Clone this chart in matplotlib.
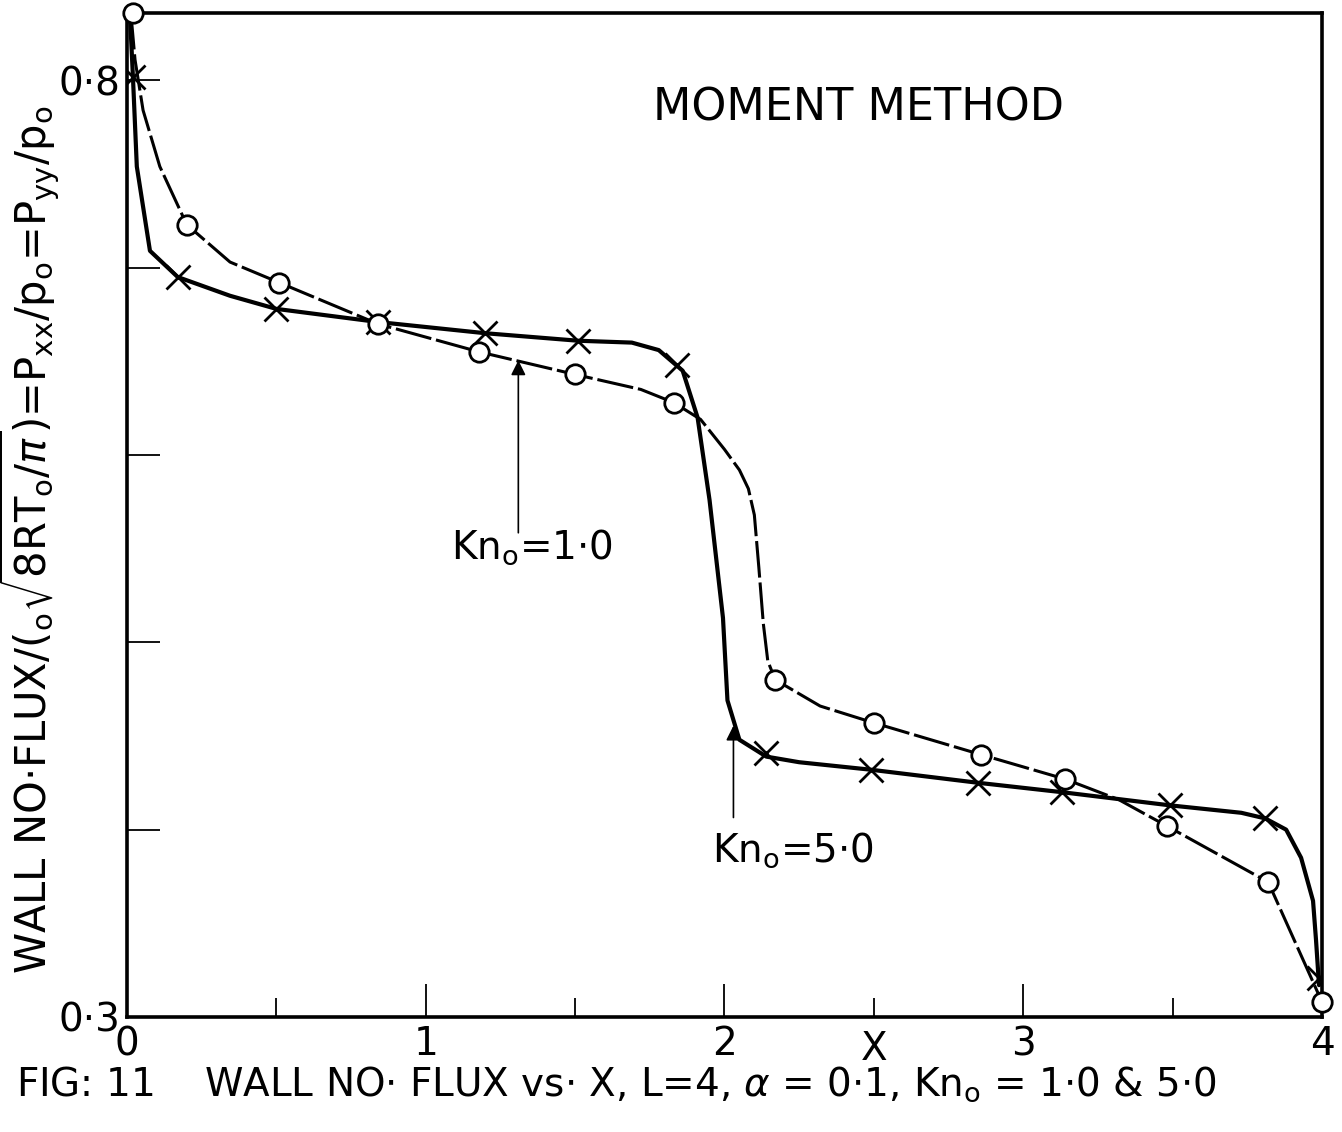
import matplotlib.pyplot as plt

plt.rcParams['font.family'] = ['DejaVu Sans']
plt.rcParams['mathtext.fontset'] = 'dejavusans'

# Kn0 = 1.0 (circles, broken line)
kn1_x = [0.02, 0.20, 0.51, 0.84, 1.18, 1.50, 1.83, 2.17, 2.50, 2.86, 3.14, 3.48, 3.82, 4.00]
kn1_y = [0.836, 0.723, 0.692, 0.670, 0.655, 0.643, 0.628, 0.480, 0.457, 0.440, 0.427, 0.402, 0.372, 0.308]
# Kn0 = 5.0 (crosses, solid line)
kn5_x = [0.02, 0.17, 0.50, 0.84, 1.20, 1.51, 1.84, 2.14, 2.49, 2.85, 3.13, 3.49, 3.81, 3.99]
kn5_y = [0.802, 0.695, 0.678, 0.671, 0.665, 0.661, 0.648, 0.441, 0.432, 0.425, 0.420, 0.413, 0.406, 0.321]

# hand-drawn curves
kn1_cx = [0.013, 0.027, 0.054, 0.11, 0.20, 0.345, 0.51, 0.84, 1.18, 1.50, 1.72, 1.83, 1.92, 2.00,
          2.05, 2.08, 2.10, 2.115, 2.13, 2.145, 2.17, 2.32, 2.50, 2.86, 3.14, 3.32, 3.48, 3.82, 4.00]
kn1_cy = [0.836, 0.811, 0.784, 0.754, 0.723, 0.703, 0.692, 0.670, 0.655, 0.643, 0.635, 0.628, 0.619, 0.603,
          0.592, 0.582, 0.568, 0.540, 0.510, 0.490, 0.480, 0.466, 0.457, 0.440, 0.427, 0.416, 0.402, 0.372, 0.308]
kn5_cx = [0.01, 0.02, 0.033, 0.077, 0.17, 0.345, 0.50, 0.84, 1.20, 1.51, 1.69, 1.78, 1.86, 1.91, 1.95,
          1.995, 2.01, 2.05, 2.14, 2.25, 2.49, 2.85, 3.13, 3.49, 3.73, 3.81, 3.88, 3.93, 3.97, 3.98, 3.99]
kn5_cy = [0.835, 0.802, 0.754, 0.709, 0.695, 0.685, 0.678, 0.671, 0.665, 0.661, 0.660, 0.656, 0.645, 0.620, 0.576,
          0.513, 0.469, 0.448, 0.439, 0.436, 0.432, 0.425, 0.420, 0.413, 0.409, 0.406, 0.400, 0.385, 0.362, 0.341, 0.317]

fig = plt.figure(figsize=(13.42, 11.32), dpi=100)
ax = fig.add_axes([0.0946, 0.1016, 0.8905, 0.887])

ax.plot(kn5_cx, kn5_cy, color='black', lw=3.0, solid_capstyle='round', zorder=2)
ax.plot(kn1_cx, kn1_cy, color='black', lw=2.2, linestyle=(0, (12, 1.6)), zorder=2)
ax.plot(kn5_x, kn5_y, linestyle='none', marker='x', ms=17, mew=2.0, color='black', zorder=3)
ax.plot(kn1_x, kn1_y, linestyle='none', marker='o', ms=14, mew=2.0, mfc='white', mec='black',
        zorder=4, clip_on=False)

ax.set_xlim(0, 4)
ax.set_ylim(0.3, 0.836)

ax.set_xticks([0, 1, 2, 3, 4])
ax.set_xticklabels(['0', '1', '2', '3', '4'])
ax.set_xticks([0.5, 1.5, 2.5, 3.5], minor=True)
ax.set_yticks([0.3, 0.4, 0.5, 0.6, 0.7, 0.8])
ax.set_yticklabels(['0·3', '', '', '', '', '0·8'])
ax.tick_params(axis='both', which='major', direction='in', length=24, width=1.3, labelsize=28, pad=6)
ax.tick_params(axis='x', which='minor', direction='in', length=14, width=1.3)
ax.tick_params(axis='y', pad=5)
for s in ax.spines.values():
    s.set_linewidth(2.6)

ax.set_xlabel('X', fontsize=28)
ax.xaxis.set_label_coords(2.5 / 4, -0.0125, transform=ax.transAxes)
ax.xaxis.label.set_verticalalignment('top')

ax.set_ylabel(r'WALL NO$\cdot$FLUX/($_{\mathsf{o}}\sqrt{\mathsf{8RT}_{\mathsf{o}}/\pi}$)='
              r'P$_{\mathsf{xx}}$/p$_{\mathsf{o}}$=P$_{\mathsf{yy}}$/p$_{\mathsf{o}}$',
              fontsize=30)
ax.yaxis.set_label_coords(-0.054, 0.475)

ax.text(2.45, 0.785, 'MOMENT METHOD', fontsize=32, ha='center', va='center')

ax.annotate('', xy=(1.31, 0.652), xytext=(1.31, 0.557),
            arrowprops=dict(arrowstyle='-|>', color='black', lw=1.2, mutation_scale=22))
ax.text(1.355, 0.551, r'Kn$_{\mathsf{o}}$=1$\cdot$0', fontsize=28, ha='center', va='center')
ax.annotate('', xy=(2.03, 0.457), xytext=(2.03, 0.405),
            arrowprops=dict(arrowstyle='-|>', color='black', lw=1.2, mutation_scale=22))
ax.text(2.23, 0.389, r'Kn$_{\mathsf{o}}$=5$\cdot$0', fontsize=28, ha='center', va='center')

fig.text(0.012, 0.042, r'FIG: 11    WALL NO$\cdot$ FLUX vs$\cdot$ X, L=4, $\alpha$ = 0$\cdot$1, '
         r'Kn$_{\mathsf{o}}$ = 1$\cdot$0 & 5$\cdot$0',
         fontsize=28, ha='left', va='center')

fig.savefig('out.png', dpi=100)
